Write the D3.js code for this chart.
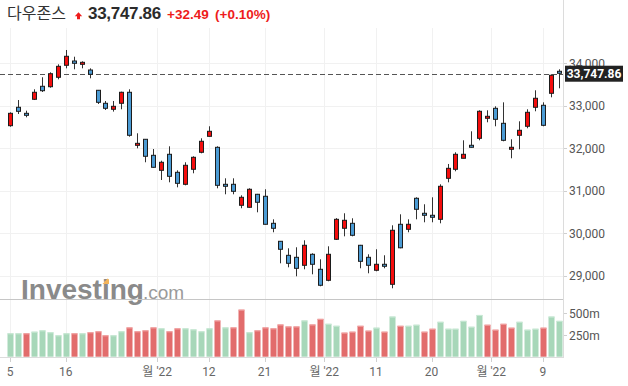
<!DOCTYPE html>
<html><head><meta charset="utf-8">
<script src="https://cdn.jsdelivr.net/npm/d3@7"></script>
<style>html,body{margin:0;padding:0;background:#fff;overflow:hidden}</style>
</head><body>
<svg id="c" width="628" height="386"></svg>
<script>
const dates = [
 "2022-08-05","2022-08-08","2022-08-09","2022-08-10","2022-08-11","2022-08-12","2022-08-15","2022-08-16","2022-08-17","2022-08-18",
 "2022-08-19","2022-08-22","2022-08-23","2022-08-24","2022-08-25","2022-08-26","2022-08-29","2022-08-30","2022-08-31","2022-09-01",
 "2022-09-02","2022-09-06","2022-09-07","2022-09-08","2022-09-09","2022-09-12","2022-09-13","2022-09-14","2022-09-15","2022-09-16",
 "2022-09-19","2022-09-20","2022-09-21","2022-09-22","2022-09-23","2022-09-26","2022-09-27","2022-09-28","2022-09-29","2022-09-30",
 "2022-10-03","2022-10-04","2022-10-05","2022-10-06","2022-10-07","2022-10-10","2022-10-11","2022-10-12","2022-10-13","2022-10-14",
 "2022-10-17","2022-10-18","2022-10-19","2022-10-20","2022-10-21","2022-10-24","2022-10-25","2022-10-26","2022-10-27","2022-10-28",
 "2022-10-31","2022-11-01","2022-11-02","2022-11-03","2022-11-04","2022-11-07","2022-11-08","2022-11-09","2022-11-10","2022-11-11"];
const open  = [32525,32958,32816,33146,33452,33442,33664,33946,34047,33969,33835,33358,33052,32911,33052,33311,32063,32205,31828,31475,
 31852,31428,31146,31499,31899,32275,32016,31146,31146,30652,30605,30911,30864,30228,29805,29475,29428,29240,29499,29146,
 28887,29852,30111,30228,29711,29428,29123,29264,28793,30205,30087,30817,30464,30417,30322,31287,31499,31758,32064,32228,
 32699,32934,32581,31970,32299,32511,32958,33005,33287,33805];
const high  = [32840,33129,32878,33381,33664,33781,33969,34306,34148,34040,33875,33365,33106,33106,33326,33381,32346,32210,31976,31701,
 32040,31475,31664,31805,32228,32511,32040,31287,31287,30887,31052,30920,31029,30322,29810,29640,29664,29828,29523,29381,
 29687,30350,30464,30346,29720,29499,29617,29476,30181,30440,30322,30840,30676,30840,31146,31624,31899,32181,32393,32887,
 32887,32981,33075,32205,32628,32911,33358,33075,33734,33852];
const low   = [32500,32800,32722,33129,33318,33419,33616,33875,33852,33875,33640,33035,32894,32856,32911,32266,31993,31664,31537,31247,
 31193,31075,31122,31405,31875,32270,31052,30911,30911,30582,30597,30487,30200,30017,29287,29193,28981,29146,29028,28746,
 28864,29835,29922,29922,29170,29052,29099,29170,28699,29640,30017,30322,30252,30252,30228,31193,31452,31758,32010,32181,
 32605,32511,32158,31758,31970,32464,32864,32511,33193,33405];
const close = [32816,32863,32769,33311,33348,33748,33922,34158,33993,34016,33734,33075,32934,32981,33311,32299,32110,31805,31546,31664,
 31334,31169,31593,31781,32158,32393,31122,31099,30981,30840,31029,30723,30205,30111,29617,29287,29169,29711,29264,28770,
 29499,30322,30299,29946,29334,29240,29264,29217,30064,29652,30205,30558,30417,30370,31099,31522,31852,31852,32017,32864,
 32746,32675,32181,32017,32417,32840,33170,32534,33711,33758];
// volume in millions
const volume = [269,269,269,288,303,281,246,269,269,269,281,292,246,246,292,337,292,303,337,326,
 292,326,326,314,292,326,417,337,337,542,281,303,337,326,371,348,348,417,371,436,
 379,356,277,288,356,300,334,288,462,356,356,368,288,322,402,322,322,413,345,481,
 368,311,379,334,402,311,322,334,462,413];
// u = up vs previous close (green), d = down (red)
const volumeDir = ("u u d u u u u u d u d d d u u d d d d u d d u u u u d u d d u d d d d d d u d d " +
                   "u u d d d d u d u d u u d d u u u u u u d d d d u u u d u u").split(" ");
const priceTicks = [29000,30000,31000,32000,33000,34000];
const volumeTicks = [250,500];
const xTickDates  = ["2022-08-05","2022-08-16","2022-09-01","2022-09-12","2022-09-21","2022-10-03","2022-10-11","2022-10-20","2022-11-01","2022-11-09"];
const xTickLabels = ["5","16","월 '22","12","21","월 '22","11","20","월 '22","9"];
const lastPrice = 33747.86;
const titleName = "다우존스", titleValue = "33,747.86", titleChange = "+32.49", titleChangePct = "(+0.10%)";

const svg = d3.select("#c");
const plotRight = 563;
const x = d3.scaleLinear().domain([0, dates.length - 1]).range([10, 558.9]);
const step = x(1) - x(0);
const y = d3.scaleLinear().domain([29000, 34000]).range([275.5, 63]);
const yv = d3.scaleLinear().domain([0, 500]).range([356.7, 313.3]);
const idx = d => dates.indexOf(d);
const rx = v => Math.round(v) + 0.5;

// vertical grid lines
const tickPos = xTickDates.map((d, i) => {
  const p = x(idx(d));
  return xTickLabels[i].includes("월") ? p - step / 2 : p;
});
svg.append("g").selectAll("line").data(tickPos).join("line")
  .attr("x1", d => rx(d)).attr("x2", d => rx(d)).attr("y1", 28).attr("y2", 357)
  .attr("stroke", "#f1f1f1");

// horizontal grid
svg.append("g").selectAll("line").data(priceTicks).join("line")
  .attr("x1", 0).attr("x2", plotRight).attr("y1", d => rx(y(d))).attr("y2", d => rx(y(d)))
  .attr("stroke", "#f1f1f1");

// watermark
const wm = svg.append("g");
wm.append("text").attr("x", 21).attr("y", 299).attr("font-family", "Liberation Sans, Arial, sans-serif")
  .attr("font-weight", "bold").attr("font-size", 28).attr("fill", "#8a8a8a").text("Investing");
wm.append("text").attr("x", 143).attr("y", 299).attr("font-family", "Liberation Sans, Arial, sans-serif")
  .attr("font-size", 19).attr("fill", "#9a9a9a").text(".com");
wm.append("path").attr("d", "M102.5,284 L107.5,278.5 L109,279.5 L109,284 Z").attr("fill", "#f3b45a");

// pane separators
svg.append("line").attr("x1", 0).attr("x2", plotRight).attr("y1", 299.5).attr("y2", 299.5).attr("stroke", "#c6c6c6");
svg.append("line").attr("x1", 0).attr("x2", plotRight).attr("y1", 357.5).attr("y2", 357.5).attr("stroke", "#dcdcdc");
svg.append("line").attr("x1", plotRight + 0.5).attr("x2", plotRight + 0.5).attr("y1", 0).attr("y2", 358).attr("stroke", "#dcdcdc");

// last price dashed line
svg.append("line").attr("x1", 0).attr("x2", plotRight).attr("y1", rx(y(lastPrice))).attr("y2", rx(y(lastPrice)))
  .attr("stroke", "#555").attr("stroke-dasharray", "5,3");

// candles
const candles = svg.append("g");
dates.forEach((d, i) => {
  const cx = Math.round(x(i));
  const up = close[i] >= open[i];
  candles.append("line").attr("x1", cx + 0.5).attr("x2", cx + 0.5)
    .attr("y1", y(high[i])).attr("y2", y(low[i])).attr("stroke", "#333").attr("stroke-width", 1);
  const top = y(Math.max(open[i], close[i])), bot = y(Math.min(open[i], close[i]));
  candles.append("rect").attr("x", cx - 1.5).attr("width", 4)
    .attr("y", top).attr("height", Math.max(1, bot - top))
    .attr("fill", up ? "#f40d0d" : "#4b9bd4").attr("stroke", "#1c1c1c").attr("stroke-width", 1);
});

// volume bars
const vols = svg.append("g");
dates.forEach((d, i) => {
  const cx = Math.round(x(i));
  const green = volumeDir[i] === "u";
  vols.append("rect").attr("x", cx - 3 + 0.5).attr("width", 6)
    .attr("y", yv(volume[i])).attr("height", yv(0) - yv(volume[i]))
    .attr("fill", green ? "#a7d7b9" : "#e26c6c");
  vols.append("rect").attr("x", cx - 3 + 0.5).attr("width", 6)
    .attr("y", yv(volume[i])).attr("height", 1)
    .attr("fill", green ? "#c9e9d5" : "#f2a6a6");
});

// x axis ticks & labels
const xa = svg.append("g");
xa.selectAll("line").data(tickPos).join("line")
  .attr("x1", d => rx(d)).attr("x2", d => rx(d)).attr("y1", 358).attr("y2", 362).attr("stroke", "#cfcfcf");
xa.selectAll("text").data(xTickLabels).join("text")
  .attr("x", (d, i) => tickPos[i]).attr("y", 376).attr("text-anchor", "middle")
  .attr("font-family", "Roboto, 'Noto Sans CJK KR', sans-serif").attr("font-size", 12).attr("fill", "#666")
  .text(d => d);

// y axis labels
const ya = svg.append("g");
ya.selectAll("line").data(priceTicks).join("line")
  .attr("x1", plotRight + 1).attr("x2", plotRight + 4).attr("y1", d => rx(y(d))).attr("y2", d => rx(y(d))).attr("stroke", "#cfcfcf");
ya.selectAll("text").data(priceTicks).join("text")
  .attr("x", 569).attr("y", d => y(d) + 4.5)
  .attr("font-family", "Roboto, sans-serif").attr("font-size", 12).attr("fill", "#555")
  .text(d => d3.format(",")(d));
const va = svg.append("g");
va.selectAll("line").data(volumeTicks).join("line")
  .attr("x1", plotRight + 1).attr("x2", plotRight + 4).attr("y1", d => rx(yv(d))).attr("y2", d => rx(yv(d))).attr("stroke", "#cfcfcf");
va.selectAll("text").data(volumeTicks).join("text")
  .attr("x", 569).attr("y", d => yv(d) + 4.5)
  .attr("font-family", "Roboto, sans-serif").attr("font-size", 12).attr("fill", "#555")
  .text(d => d + "m");

// last price box
const ly = y(lastPrice);
svg.append("rect").attr("x", 565).attr("y", ly - 8).attr("width", 58).attr("height", 16).attr("fill", "#222");
svg.append("text").attr("x", 594).attr("y", ly + 4.3).attr("text-anchor", "middle")
  .attr("font-family", "Roboto, sans-serif").attr("font-weight", "bold").attr("font-size", 12).attr("fill", "#fff")
  .text(d3.format(",.2f")(lastPrice));

// header
const hd = svg.append("g");
hd.append("text").attr("x", 7).attr("y", 19).attr("font-family", "'Noto Sans CJK KR', sans-serif")
  .attr("font-size", 16).attr("fill", "#333").text(titleName);
hd.append("path").attr("d", "M78.5,12.3 L82.2,16.3 L80,16.3 L80,19.3 L77,19.3 L77,16.3 L74.8,16.3 Z").attr("fill", "#ee1c1c");
hd.append("text").attr("x", 88).attr("y", 19.3).attr("font-family", "'Liberation Sans', Arial, sans-serif")
  .attr("font-weight", "bold").attr("font-size", 17).attr("letter-spacing", -0.3).attr("fill", "#2b2b2b").text(titleValue);
hd.append("text").attr("x", 167).attr("y", 19.3).attr("font-family", "'Liberation Sans', Arial, sans-serif")
  .attr("font-weight", "bold").attr("font-size", 13.5).attr("fill", "#ee1c1c").text(titleChange);
hd.append("text").attr("x", 215).attr("y", 19.3).attr("font-family", "'Liberation Sans', Arial, sans-serif")
  .attr("font-weight", "bold").attr("font-size", 13.5).attr("fill", "#ee1c1c").text(titleChangePct);
</script>
</body></html>
